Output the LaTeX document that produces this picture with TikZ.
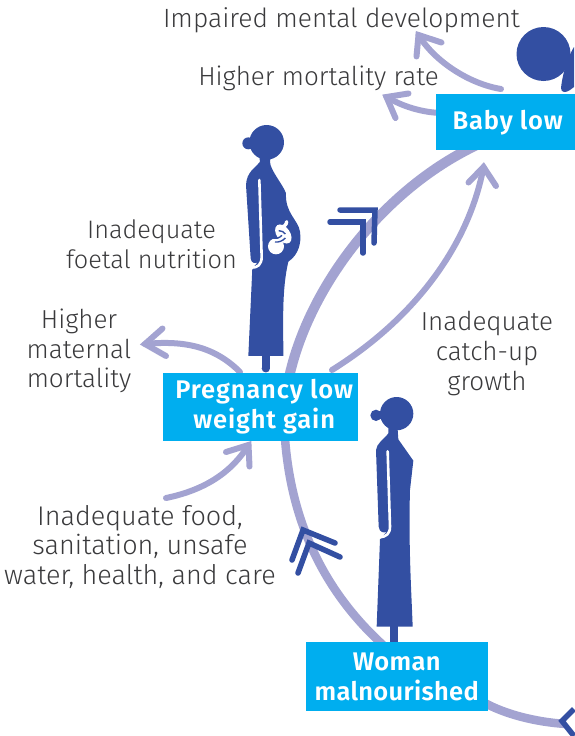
\documentclass[tikz,border=0pt]{standalone}
\usepackage{fontspec}
\setmainfont{Fira Sans}[UprightFont=* Light,BoldFont=* SemiBold]
\usetikzlibrary{arrows.meta}
\definecolor{lav}{HTML}{A3A3D1}
\definecolor{navy}{HTML}{334FA2}
\definecolor{cyanbox}{HTML}{00AEEF}
\definecolor{txt}{HTML}{3A3A3C}
\tikzset{
 boxnode/.style={fill=cyanbox,text=white,font=\fontsize{25.5}{30}\selectfont\bfseries\addfontfeatures{LetterSpace=3.4},align=center,inner sep=0pt},
 lab/.style={text=txt,font=\fontsize{26}{29.7}\selectfont,align=center,inner sep=0pt},
 bigarc/.style={draw=lav,line width=8.5pt},
 thinarrow/.style={draw=lav,line width=6pt,line cap=round,line join=miter},
 chev/.style={draw=navy,line width=5.5pt,line cap=round,line join=miter},
 figfill/.style={fill=navy,draw=none},
 figline/.style={draw=white,line width=2.6pt}
}
\begin{document}
\begin{tikzpicture}[x=1pt,y=-1pt]
\useasboundingbox (0,0) rectangle (574,736);
\coordinate (wtop) at (383,645);
\coordinate (mid) at (284,420);
\coordinate (bbot) at (488,140);
\coordinate (wr) at (485,703);
\coordinate (er) at (566,724);
% big arcs
\draw[bigarc] (wtop) .. controls (325,592) and (287,520) .. (mid);
\draw[bigarc,line width=10pt] (mid) .. controls (285,320) and (370,190) .. (bbot);
\draw[bigarc] (wr) .. controls (505,714) and (535,722) .. (er);
% arrows
\coordinate (a1s) at (501,89); \coordinate (a1e) at (418.5,35);
\coordinate (a2s) at (440,113); \coordinate (a2e) at (386.5,97);
\coordinate (a3s) at (332,370); \coordinate (a3e) at (483.5,167);
\coordinate (a4s) at (240,372); \coordinate (a4e) at (145,344);
\coordinate (a5s) at (166,498); \coordinate (a5e) at (248.5,445);
\draw[thinarrow] (a1s) .. controls (470,84) and (435,62) .. (a1e);
\draw[thinarrow] (a2s) .. controls (420,112) and (402,106) .. (a2e);
\draw[thinarrow] (a3s) .. controls (420,315) and (470,240) .. (a3e);
\draw[thinarrow] (a4s) .. controls (215,347) and (185,340) .. (a4e);
\draw[thinarrow] (a5s) .. controls (205,490) and (232,472) .. (a5e);
\draw[thinarrow] (441.5,42.5) -- (a1e) -- (416.5,56.5);
\draw[thinarrow] (408.5,93.5) -- (a2e) -- (395.5,118);
\draw[thinarrow] (468.5,182.5) -- (a3e) -- (496,186);
\draw[thinarrow] (162.5,328.5) -- (a4e) -- (166,356);
\draw[thinarrow] (226,452) -- (a5e) -- (249.5,466.5);
% chevrons
\draw[chev] (340,210) -- (375,210) -- (374,243);
\draw[chev] (330,222) -- (363,222) -- (363,253);
\draw[chev] (335,543) -- (303,530) -- (292,560);
\draw[chev] (340,557) -- (309,543) -- (298,573);
\draw[chev,line cap=butt] (574,709) -- (562,721) -- (574,736);
% baby
\fill[figfill] (543.5,54) circle (27);
\fill[figfill] (574,47) .. controls (566,60) and (562,78) .. (561,88) .. controls (561,93) and (566,93) .. (570,90) -- (574,87) -- cycle;
% pregnant woman
\begin{scope}[shift={(220,110)},x=0.3333pt,y=-0.3333pt]
\fill[figfill] (140,97) circle (52);
\fill[figfill] (85,100) circle (18);
\fill[figfill] (85,90) -- (100,90) -- (100,112) -- (85,112) -- cycle;
\fill[figfill] (118,140) -- (120,155) .. controls (105,175) and (80,185) .. (78,225)
 -- (92,445) .. controls (93,462) and (110,462) .. (115,455)
 -- (97,475) -- (85,738) -- (190,738) .. controls (190,640) and (185,540) .. (205,455)
 .. controls (235,435) and (245,400) .. (240,365) .. controls (235,330) and (195,310) .. (198,250)
 .. controls (190,225) and (150,180) .. (150,155) -- (152,140) -- cycle;
\draw[figline,line cap=round] (118,210) -- (125,440) .. controls (125,465) and (112,473) .. (95,473);
\fill[figfill] (125,735) rectangle (150,775);
\fill[figfill] (137.5,775) circle (12.5);
% foetus
\fill[white] (168,409) circle (24);
\fill[white,rotate around={35:(190,372)}] (190,372) ellipse (20 and 32);
\draw[white,line width=3.4pt,line cap=round] (180,352) .. controls (190,352) and (200,345) .. (200,335);
\draw[navy,line width=1.4pt] (155,382) .. controls (165,388) and (178,385) .. (186,376);
\draw[navy,line width=1.4pt] (165,396) .. controls (175,398) and (190,392) .. (196,384);
\draw[navy,line width=1.4pt] (176,362) .. controls (185,362) and (192,366) .. (196,372);
\end{scope}
% standing woman
\begin{scope}[shift={(360,380)},x=0.3333pt,y=-0.3333pt]
\fill[figfill] (110,101) circle (50);
\fill[figfill] (48,106) circle (17);
\fill[figfill] (50,95) -- (66,95) -- (66,117) -- (50,117) -- cycle;
\fill[figfill] (85,135) -- (85,160) .. controls (70,180) and (50,190) .. (48,210)
 -- (56,440) .. controls (58,458) and (72,460) .. (80,455)
 -- (60,478) -- (50,740) -- (158,740) .. controls (155,650) and (145,500) .. (150,330)
 -- (160,242) -- (115,178) -- (112,135) -- cycle;
\draw[figline,line cap=round] (83,214) -- (90,440) .. controls (90,462) and (78,470) .. (60,472);
\fill[figfill] (90,738) rectangle (115,790);
\end{scope}
% boxes
\node[boxnode,minimum width=139pt,minimum height=56pt,anchor=north west] (baby) at (435.5,94) {\hspace*{5pt}\raisebox{-1pt}{Baby low}};
\node[boxnode,minimum width=195pt,minimum height=68pt,anchor=north west] (preg) at (163,372.5) {\hspace*{7pt}Pregnancy low\\\hspace*{7pt}weight gain};
\node[boxnode,font=\fontsize{25.5}{30}\selectfont\bfseries\addfontfeatures{LetterSpace=1.2},minimum width=182pt,minimum height=69pt,anchor=north west] (woman) at (305.5,642) {\raisebox{1pt}{Woman}\\\raisebox{1pt}{malnourished}};
% labels
\node[lab,font=\fontsize{26.4}{29.7}\selectfont] (l1) at (341.5,20) {Impaired mental development};
\node[lab] (l2) at (318.5,78) {Higher mortality rate};
\node[lab,font=\fontsize{25.3}{29.7}\selectfont] (l3) at (151.5,244) {Inadequate\\foetal nutrition};
\node[lab] (l4) at (79,351) {Higher\\maternal\\mortality};
\node[lab] (l5) at (487,353.5) {Inadequate\\catch-up\\growth};
\node[lab,font=\fontsize{27}{29.7}\selectfont] (l6) at (140,547) {Inadequate food,\\sanitation, unsafe\\water, health, and care};
\end{tikzpicture}
\end{document}
